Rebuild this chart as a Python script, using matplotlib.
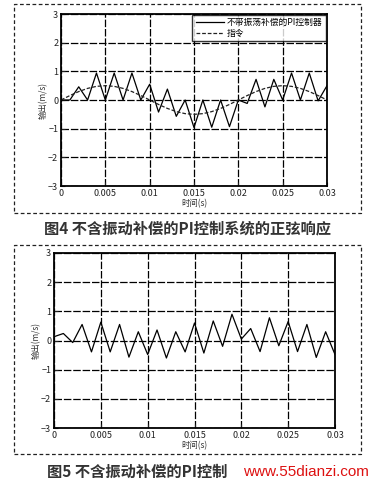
import numpy as np
import matplotlib
matplotlib.use("Agg")
import matplotlib.pyplot as plt
from matplotlib.patches import Rectangle

plt.rcParams['font.family'] = ['Noto Sans CJK SC', 'DejaVu Sans']

# time axis (s), one sample per ms
t = [0.000, 0.001, 0.002, 0.003, 0.004, 0.005, 0.006, 0.007, 0.008, 0.009,
     0.010, 0.011, 0.012, 0.013, 0.014, 0.015, 0.016, 0.017, 0.018, 0.019,
     0.020, 0.021, 0.022, 0.023, 0.024, 0.025, 0.026, 0.027, 0.028, 0.029,
     0.030]

# fig 4: PI output without vibration compensation
pi_out4 = [0.0, 0.0, 0.46, 0.0, 0.94, 0.0, 0.94, 0.0, 0.94, 0.0,
           0.55, -0.42, 0.38, -0.57, 0.0, -0.96, 0.0, -0.95, 0.0, -0.93,
           0.0, -0.12, 0.72, -0.24, 0.72, 0.0, 0.94, 0.0, 0.94, -0.03,
           0.5]
# command signal
cmd4 = [0.0, 0.155, 0.294, 0.405, 0.476, 0.5, 0.476, 0.405, 0.294, 0.155,
        0.0, -0.155, -0.294, -0.405, -0.476, -0.5, -0.476, -0.405, -0.294, -0.155,
        0.0, 0.155, 0.294, 0.405, 0.476, 0.5, 0.476, 0.405, 0.294, 0.155,
        0.0]

# fig 5
pi_out5 = [0.13, 0.24, -0.07, 0.55, -0.39, 0.63, -0.39, 0.55, -0.57, 0.3,
           -0.48, 0.36, -0.6, 0.3, -0.39, 0.6, -0.43, 0.67, -0.2, 0.9,
           0.05, 0.41, -0.38, 0.78, -0.18, 0.65, -0.38, 0.55, -0.58, 0.3,
           -0.48]

xticks = [0, 0.005, 0.01, 0.015, 0.02, 0.025, 0.03]
xticklabels = ['0', '0.005', '0.01', '0.015', '0.02', '0.025', '0.03']
yticks = [-3, -2, -1, 0, 1, 2, 3]

W, H = 375, 483
fig = plt.figure(figsize=(W / 100, H / 100), dpi=100)
fig.patch.set_facecolor('white')


def box(x0, y0, x1, y1):
    # pixel coords, top-left origin
    return [x0 / W, 1 - y1 / H, (x1 - x0) / W, (y1 - y0) / H]


def style_ax(ax):
    ax.set_xlim(0, 0.03)
    ax.set_ylim(-3, 3)
    ax.set_xticks(xticks)
    ax.set_xticklabels(xticklabels)
    ax.set_yticks(yticks)
    ax.tick_params(direction='in', labelsize=6.5, length=3, width=0.8,
                   colors='#222222', pad=2)
    ax.grid(True, color='black', linestyle=(0, (6, 1.5)), linewidth=0.9)
    for s in ax.spines.values():
        s.set_linewidth(1.3)
    ax.set_xlabel('时间(s)', fontsize=6, color='#333333', labelpad=1)
    ax.set_ylabel('输出(m/s)', fontsize=6, color='#333333', labelpad=0)


# dashed frames
for (x0, y0, x1, y1) in [(14, 4, 361, 213), (14, 245, 361, 454)]:
    fig.patches.append(Rectangle((x0 / W, 1 - y1 / H), (x1 - x0) / W, (y1 - y0) / H,
                                 transform=fig.transFigure, fill=False,
                                 edgecolor='#222222', linewidth=0.9,
                                 linestyle=(0, (3, 2))))

ax1 = fig.add_axes(box(61, 14, 327, 186))
ax1.plot(t, pi_out4, color='black', linewidth=0.9, label='不带振荡补偿的PI控制器')
ax1.plot(t, cmd4, color='#222222', linewidth=0.9, linestyle=(0, (3, 1.5)), label='指令')
style_ax(ax1)
leg = ax1.legend(loc='upper right', fontsize=6.3, frameon=True, fancybox=False,
                 edgecolor='black', borderpad=0.35, labelspacing=0.15,
                 handlelength=3.2, handletextpad=0.4, borderaxespad=0.15)
leg.get_frame().set_linewidth(1.0)

ax2 = fig.add_axes(box(54, 253, 335, 428))
ax2.plot(t, pi_out5, color='black', linewidth=0.9)
style_ax(ax2)

fig.text(187 / W, 1 - 228 / H, '图4 不含振动补偿的PI控制系统的正弦响应',
         ha='center', va='center', fontsize=11, fontweight='bold', color='#333333')
fig.text(47 / W, 1 - 472 / H, '图5 不含振动补偿的PI控制',
         ha='left', va='center', fontsize=11, fontweight='bold', color='#333333')
fig.text(369 / W, 1 - 472 / H, 'www.55dianzi.com',
         ha='right', va='center', fontsize=11, color='#dd1111',
         family=['Liberation Sans', 'DejaVu Sans'])

fig.savefig('out.png', dpi=100, facecolor='white')
